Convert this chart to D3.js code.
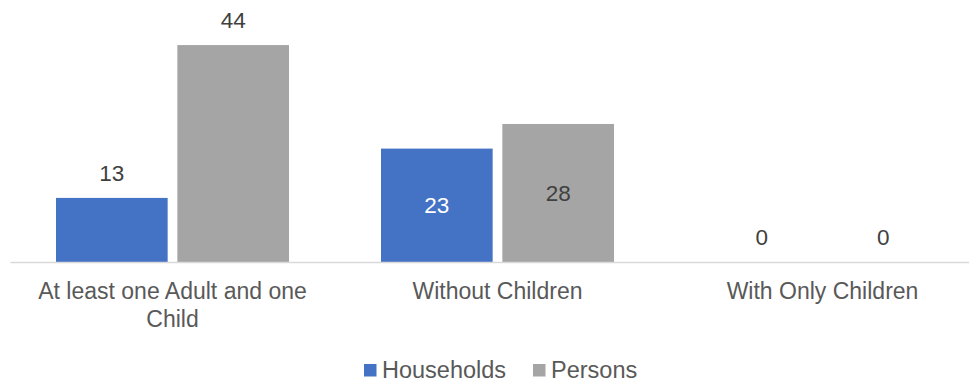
<!DOCTYPE html>
<html>
<head>
<meta charset="utf-8">
<script src="https://cdn.jsdelivr.net/npm/d3@7"></script>
<style>
  body { margin: 0; background: #fff; }
  text { font-family: "Liberation Sans", Arial, sans-serif; }
</style>
</head>
<body>
<div class="canvas"></div>
<script>
const categories = ["At least one Adult and one Child", "Without Children", "With Only Children"]
const series = ["Households", "Persons"]
const households = [13, 23, 0]
const persons = [44, 28, 0]
// where the value label sits, per category (as in the original)
const labelPlace = ["outside", "center", "outside"]

const colors = { Households: "#4472C4", Persons: "#A5A5A5" }
const labelColors = { Households: "#fff", Persons: "#404040" }

const width = 969
const height = 381

const svg = d3.select(".canvas")
    .append("svg")
    .attr("width", width)
    .attr("height", height)

const data = categories.map((c, i) => ({
    category: c,
    place: labelPlace[i],
    values: [
        { key: "Households", value: households[i] },
        { key: "Persons", value: persons[i] }
    ]
}))

const x0 = d3.scaleBand()
    .domain(categories)
    .range([10, 985])

const x1 = d3.scaleBand()
    .domain(series)
    .range([46, 279])
    .paddingInner(0.08)

const y = d3.scaleLinear()
    .domain([0, 50])
    .range([262, 15.5])

const groups = svg.selectAll("g.group")
    .data(data)
    .enter()
    .append("g")
    .attr("class", "group")
    .attr("transform", d => `translate(${x0(d.category)}, 0)`)

groups.selectAll("rect")
    .data(d => d.values)
    .enter()
    .append("rect")
    .attr("x", d => x1(d.key))
    .attr("y", d => y(d.value))
    .attr("width", x1.bandwidth())
    .attr("height", d => y(0) - y(d.value))
    .attr("fill", d => colors[d.key])

groups.selectAll("text.value")
    .data(d => d.values.map(v => ({ ...v, place: d.place })))
    .enter()
    .append("text")
    .attr("class", "value")
    .attr("x", d => x1(d.key) + x1.bandwidth() / 2)
    .attr("y", d => d.place == "center" ? (y(d.value) + y(0)) / 2 + 8 : y(d.value) - 17)
    .attr("text-anchor", "middle")
    .attr("font-size", "22.5px")
    .attr("fill", d => d.place == "center" ? labelColors[d.key] : "#404040")
    .text(d => d.value)

// x axis
const xAxis = d3.axisBottom(x0).tickSize(0).tickPadding(0)
const xAxisGroup = svg.append("g")
    .attr("transform", `translate(0, ${y(0)})`)
    .call(xAxis)

xAxisGroup.select(".domain")
    .attr("stroke", "#D9D9D9")
    .attr("stroke-width", 1.5)

xAxisGroup.selectAll(".tick text").remove()
xAxisGroup.selectAll(".tick")
    .append("text")
    .attr("text-anchor", "middle")
    .attr("font-size", "23px")
    .attr("fill", "#595959")
    .each(function(d) {
        const lines = d == categories[0] ? ["At least one Adult and one", "Child"] : [d]
        d3.select(this).selectAll("tspan")
            .data(lines)
            .enter()
            .append("tspan")
            .attr("x", 0)
            .attr("y", (l, i) => 37 + i * 28)
            .text(l => l)
    })

// legend
const legend = svg.append("g")
const legendX = [364, 533]
series.forEach((s, i) => {
    const item = legend.append("g")
        .attr("transform", `translate(${legendX[i]}, 364)`)
    item.append("rect")
        .attr("width", 12.5)
        .attr("height", 12.5)
        .attr("fill", colors[s])
    item.append("text")
        .attr("x", 18)
        .attr("y", 13.5)
        .attr("font-size", "23.5px")
        .attr("fill", "#595959")
        .text(s)
})
</script>
</body>
</html>
